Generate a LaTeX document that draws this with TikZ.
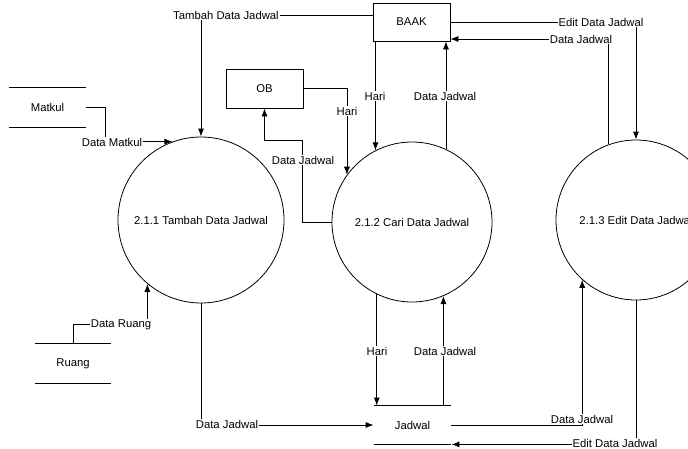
\documentclass[tikz,border=0pt]{standalone}
\usepackage{fontspec}
\setmainfont{Liberation Sans}
\usetikzlibrary{arrows.meta}

\tikzset{
  every node/.style={font=\fontsize{11.3}{13}\selectfont},
  proc/.style={draw,circle,minimum size=#1,inner sep=0pt},
  ent/.style={draw,rectangle,minimum width=77,minimum height=38},
  store/.style={minimum width=77,minimum height=38.5},
  flow/.style={-{Latex[length=8pt,width=6pt]}},
  lbl/.style={fill=white,inner sep=1pt}
}

\begin{document}
\begin{tikzpicture}[x=1pt,y=-1pt,line width=0.8pt]
\useasboundingbox (0,0) rectangle (688,448);
\clip (0,0) rectangle (688,448);

% proses
\node[proc=166,label={center:2.1.1 Tambah Data Jadwal}] (p1) at (201,220) {};
\node[proc=160,label={center:2.1.2 Cari Data Jadwal}] (p2) at (412,222) {};
\node[proc=160,label={center:2.1.3 Edit Data Jadwal}] (p3) at (636,220) {};

% entitas
\node[ent] (baak) at (411.5,22) {BAAK};
\node[ent,minimum height=39] (ob) at (264.5,88.5) {OB};

% data store
\node[store] (matkul) at (47.5,107.5) {Matkul};
\node[store,minimum width=76] (ruang) at (73,363.5) {Ruang};
\node[store,minimum height=38] (jadwal) at (412.5,425) {Jadwal};
\foreach \s in {matkul,ruang,jadwal}{
  \draw (\s.north west) -- (\s.north east);
  \draw (\s.south west) -- (\s.south east);
}

% BAAK
\draw[flow] ([yshift=7]baak.west) -| (p1.north);
\draw[flow] (baak.east) -| (p3.north);
\draw[flow] (p3.110.5) |- ([yshift=-17]baak.east);
\draw[flow] (p2.117.5 |- baak.south) -- (p2.117.5);
\draw[flow] (p2.65) -- (p2.65 |- baak.south);

% OB
\draw[flow] (ob.east) -| (p2.144.4);
\draw[flow] (p2.west) -- ++(-29,0) -- ++(0,-82) -| (ob.south);

% Matkul, Ruang
\draw[flow] (matkul.east) -- ++(19,0) |- (p1.110);
\draw[flow] (ruang.north) -- ++(0,-19) -| (p1.230.4);

% Jadwal
\draw[flow] (p1.south) |- (jadwal.west);
\draw[flow] (p2.244) -- (p2.244 |- jadwal.north);
\draw[flow] (p2.293.7 |- jadwal.north) -- (p2.293.7);
\draw[flow] (jadwal.east) -| (p3.228.5);
\draw[flow] (p3.south) |- (jadwal.south east);

% label
\node[lbl] (l1) at (226,15) {Tambah Data Jadwal};
\node[lbl] (l2) at (601,22) {Edit Data Jadwal};
\node[lbl] (l3) at (581,39) {Data Jadwal};
\node[lbl] (l4) at (375,96) {Hari};
\node[lbl] (l5) at (445,96) {Data Jadwal};
\node[lbl] (l6) at (347,111) {Hari};
\node[lbl] (l7) at (303,160) {Data Jadwal};
\node[lbl] (l8) at (112,142) {Data Matkul};
\node[lbl] (l9) at (121,325) {Data Ruang};
\node[lbl] (l10) at (227,424) {Data Jadwal};
\node[lbl] (l11) at (377,351) {Hari};
\node[lbl] (l12) at (445,351) {Data Jadwal};
\node[lbl] (l13) at (582,419) {Data Jadwal};
\node[lbl] (l14) at (615,443) {Edit Data Jadwal};

\end{tikzpicture}
\end{document}
